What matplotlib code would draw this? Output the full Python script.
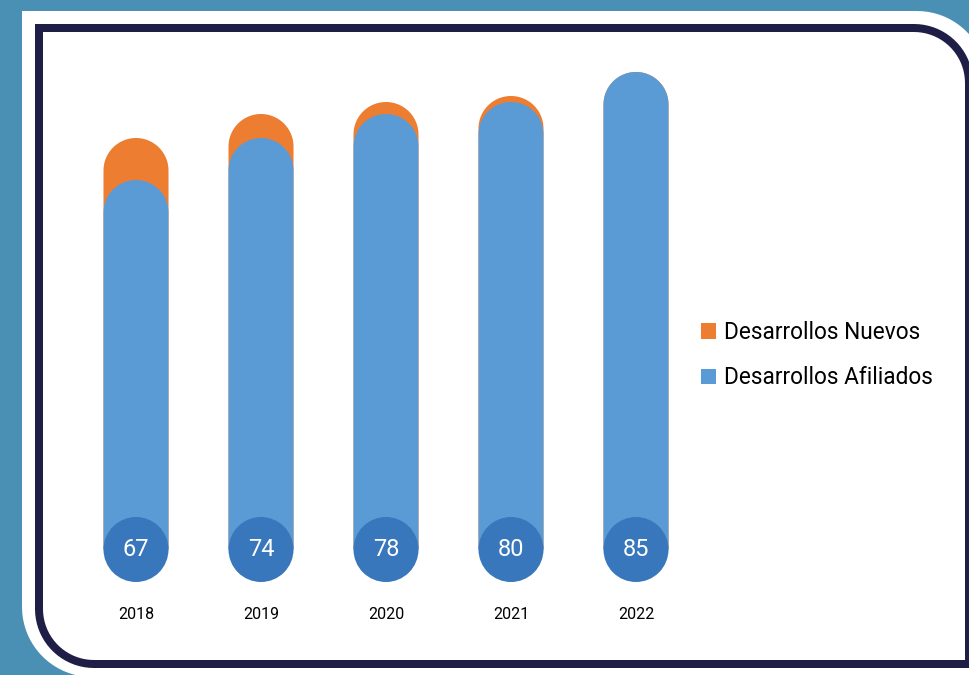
"""Desarrollos afiliados / nuevos por año"""

import matplotlib

matplotlib.use("Agg")
import matplotlib.pyplot as plt
import numpy as np
from matplotlib.patches import Ellipse, PathPatch, Patch
from matplotlib.path import Path

plt.rcParams["font.family"] = ["Roboto", "DejaVu Sans"]

# datos
years = ["2018", "2019", "2020", "2021", "2022"]
afiliados = [67, 74, 78, 80, 85]
nuevos = [7, 4, 2, 1, 0]

C_BG = "#4a8fb4"
C_NAVY = "#1e1e46"
C_BLUE = "#5b9bd5"
C_ORANGE = "#ed7d31"
C_CIRCLE = "#3977bd"

W, H = 970, 675


def panel_path(x0, y0, x1, y1, r):
    """Rectángulo con esquinas superior-derecha e inferior-izquierda redondeadas (coords y hacia abajo)"""
    t = np.linspace(0, np.pi / 2, 20)
    pts = [(x0, y0)]
    # esquina superior derecha
    cx, cy = x1 - r, y0 + r
    pts += list(zip(cx + r * np.sin(t), cy - r * np.cos(t)))
    pts.append((x1, y1))
    # esquina inferior izquierda
    cx, cy = x0 + r, y1 - r
    pts += list(zip(cx - r * np.sin(t), cy + r * np.cos(t)))
    pts.append((x0, y0))
    return Path(pts, closed=True)


fig = plt.figure(figsize=(W / 100, H / 100), dpi=100, facecolor=C_BG)

# marco de fondo en pixeles
bg = fig.add_axes([0, 0, 1, 1])
bg.set_xlim(0, W)
bg.set_ylim(H, 0)
bg.axis("off")
bg.add_patch(PathPatch(panel_path(22, 11, 987, 677, 70), facecolor="white", edgecolor="none"))
bg.add_patch(
    PathPatch(panel_path(39, 28, 969, 664, 55), facecolor="none", edgecolor=C_NAVY, linewidth=8 * 0.72)
)

# ejes del gráfico: 125 px por categoría, 6 px por unidad
ax_left, ax_bottom_px, ax_w, ax_h = 73.5, 582, 625, 540
ax = fig.add_axes([ax_left / W, (H - ax_bottom_px) / H, ax_w / W, ax_h / H])
ax.set_xlim(-0.5, 4.5)
ax.set_ylim(0, 90)
ax.patch.set_visible(False)
px_x = ax_w / 5
px_y = ax_h / 90

bar_w = 65 / px_x
ry = 32.5 / px_y


def capsule(ax, x, top, color):
    """barra con extremo superior redondeado, de y=ry hasta top"""
    hw = bar_w / 2
    t = np.linspace(0, np.pi, 60)
    cy = top - ry
    pts = [(x - hw, ry), (x + hw, ry)]
    pts += list(zip(x + hw * np.cos(t), cy + ry * np.sin(t)))
    pts.append((x - hw, ry))
    ax.add_patch(PathPatch(Path(pts, closed=True), facecolor=color, edgecolor="none"))


x = np.arange(len(years))
for i in x:
    total = afiliados[i] + nuevos[i]
    capsule(ax, i, total, C_ORANGE)
    capsule(ax, i, afiliados[i], C_BLUE)
    ax.add_patch(Ellipse((i, ry), bar_w, 2 * ry, facecolor=C_CIRCLE, edgecolor="none"))
    ax.text(i, ry, str(afiliados[i]), color="white", fontsize=17, ha="center", va="center")

ax.set_xticks(x, years)
ax.tick_params(axis="x", length=0, pad=18, labelsize=11.5, labelcolor="black")
ax.set_yticks([])
for s in ax.spines.values():
    s.set_visible(False)

handles = [
    Patch(facecolor=C_ORANGE, label="Desarrollos Nuevos"),
    Patch(facecolor=C_BLUE, label="Desarrollos Afiliados"),
]
fig.legend(
    handles=handles,
    loc="center left",
    bbox_to_anchor=(701 / W, (H - 355) / H),
    frameon=False,
    fontsize=16.3,
    handlelength=0.65,
    handleheight=0.65,
    handletextpad=0.35,
    labelspacing=0.98,
    borderpad=0,
    borderaxespad=0,
)

fig.savefig("out.png", dpi=100, facecolor=C_BG)
plt.close(fig)
